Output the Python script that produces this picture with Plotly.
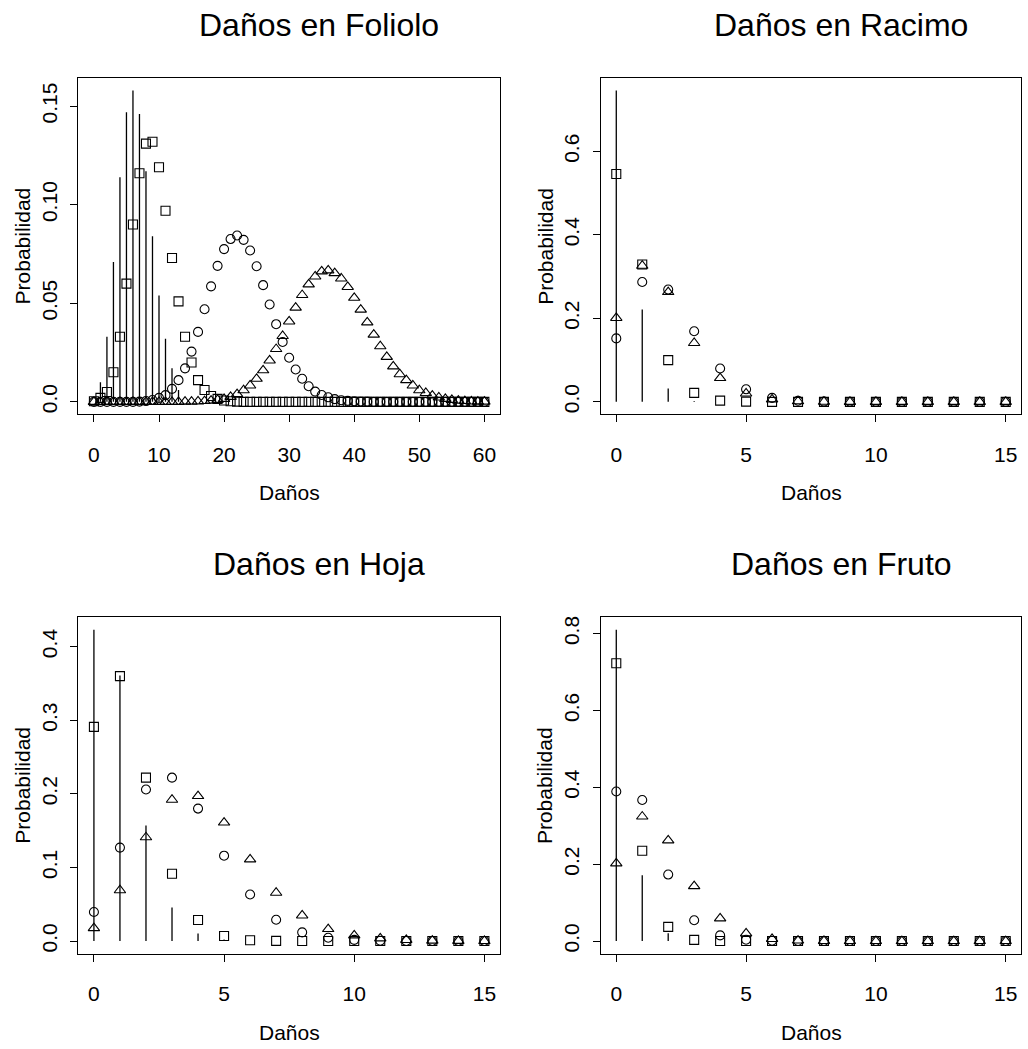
import plotly.graph_objects as go

# ---------------- data ----------------
titles = ["Daños en Foliolo", "Daños en Racimo", "Daños en Hoja", "Daños en Fruto"]
x_label = "Daños"
y_label = "Probabilidad"

# Foliolo: damage counts 0..60
fol_x = list(range(0, 61))
fol_obs_x = list(range(0, 14))
fol_obs = [0.0, 0.010, 0.033, 0.071, 0.114, 0.147, 0.158, 0.146, 0.117, 0.084,
           0.054, 0.032, 0.017, 0.006]
fol_negbin = [0.0003, 0.002, 0.005, 0.015, 0.033, 0.060, 0.090, 0.116, 0.131, 0.132,
              0.119, 0.097, 0.073, 0.051, 0.033, 0.020, 0.011, 0.006, 0.003, 0.0015,
              0.0007, 0.0003, 0.0001, 0.0, 0.0, 0.0, 0.0, 0.0, 0.0, 0.0,
              0.0, 0.0, 0.0, 0.0, 0.0, 0.0, 0.0, 0.0, 0.0, 0.0,
              0.0, 0.0, 0.0, 0.0, 0.0, 0.0, 0.0, 0.0, 0.0, 0.0,
              0.0, 0.0, 0.0, 0.0, 0.0, 0.0, 0.0, 0.0, 0.0, 0.0, 0.0]
fol_poisson = [0.0, 0.0, 0.0, 0.0, 0.0, 0.0, 0.0, 0.0001, 0.0004, 0.0009,
               0.002, 0.0034, 0.0066, 0.011, 0.017, 0.0255, 0.0355, 0.047, 0.0586, 0.069,
               0.0775, 0.0826, 0.0844, 0.0822, 0.0768, 0.0688, 0.0592, 0.0494, 0.0394, 0.0304,
               0.0224, 0.0164, 0.0117, 0.0079, 0.0052, 0.0035, 0.0023, 0.0014, 0.0008, 0.0005,
               0.0003, 0.0002, 0.0001, 0.0, 0.0, 0.0, 0.0, 0.0, 0.0, 0.0,
               0.0, 0.0, 0.0, 0.0, 0.0, 0.0, 0.0, 0.0, 0.0, 0.0, 0.0]
fol_binom = [0.0, 0.0, 0.0, 0.0, 0.0, 0.0, 0.0, 0.0, 0.0, 0.0,
             0.0, 0.0, 0.0, 0.0, 0.0001, 0.0001, 0.0002, 0.0004, 0.0006, 0.0010,
             0.0015, 0.0025, 0.0039, 0.0059, 0.0083, 0.0117, 0.016, 0.021, 0.0268, 0.0334,
             0.0408, 0.0478, 0.0542, 0.0596, 0.0636, 0.0662, 0.0667, 0.0653, 0.0626, 0.0583,
             0.0528, 0.0468, 0.0403, 0.0341, 0.0282, 0.0228, 0.018, 0.014, 0.011, 0.0083,
             0.0059, 0.0045, 0.0032, 0.0022, 0.0015, 0.001, 0.0006, 0.0004, 0.0002, 0.0001, 0.0001]

# Racimo: damage counts 0..15
rac_x = list(range(0, 16))
rac_obs_x = [0, 1, 2, 3]
rac_obs = [0.746, 0.221, 0.032, 0.002]
rac_negbin = [0.546, 0.329, 0.100, 0.0215, 0.003, 0.0005, 0.0, 0.0,
              0.0, 0.0, 0.0, 0.0, 0.0, 0.0, 0.0, 0.0]
rac_poisson = [0.152, 0.287, 0.269, 0.169, 0.080, 0.030, 0.0095, 0.0026,
               0.0006, 0.0001, 0.0, 0.0, 0.0, 0.0, 0.0, 0.0]
rac_binom = [0.201, 0.326, 0.263, 0.141, 0.057, 0.020, 0.006, 0.0015,
             0.0003, 0.0, 0.0, 0.0, 0.0, 0.0, 0.0, 0.0]

# Hoja: damage counts 0..15
hoj_x = list(range(0, 16))
hoj_obs_x = [0, 1, 2, 3, 4, 5]
hoj_obs = [0.423, 0.361, 0.157, 0.0457, 0.0104, 0.002]
hoj_negbin = [0.291, 0.360, 0.222, 0.0914, 0.0285, 0.0068, 0.001, 0.0002,
              0.0, 0.0, 0.0, 0.0, 0.0, 0.0, 0.0, 0.0]
hoj_poisson = [0.0394, 0.127, 0.206, 0.222, 0.180, 0.116, 0.0633, 0.029,
               0.0118, 0.0045, 0.0016, 0.0005, 0.0001, 0.0, 0.0, 0.0]
hoj_binom = [0.0176, 0.069, 0.141, 0.192, 0.197, 0.161, 0.111, 0.0656,
             0.0348, 0.0163, 0.0077, 0.0036, 0.0015, 0.0006, 0.0002, 0.0001]

# Fruto: damage counts 0..15
fru_x = list(range(0, 16))
fru_obs_x = [0, 1, 2]
fru_obs = [0.810, 0.171, 0.020]
fru_negbin = [0.723, 0.235, 0.037, 0.003, 0.0003, 0.0, 0.0, 0.0,
              0.0, 0.0, 0.0, 0.0, 0.0, 0.0, 0.0, 0.0]
fru_poisson = [0.389, 0.367, 0.173, 0.054, 0.0147, 0.0035, 0.0007, 0.0001,
               0.0, 0.0, 0.0, 0.0, 0.0, 0.0, 0.0, 0.0]
fru_binom = [0.202, 0.324, 0.262, 0.143, 0.059, 0.020, 0.0055, 0.0013,
             0.0003, 0.0, 0.0, 0.0, 0.0, 0.0, 0.0, 0.0]

x_ticks = [[0, 10, 20, 30, 40, 50, 60], [0, 5, 10, 15], [0, 5, 10, 15], [0, 5, 10, 15]]
y_ticks = [[0.0, 0.05, 0.10, 0.15], [0.0, 0.2, 0.4, 0.6],
           [0.0, 0.1, 0.2, 0.3, 0.4], [0.0, 0.2, 0.4, 0.6, 0.8]]
y_tick_text = [["0.0", "0.05", "0.10", "0.15"], ["0.0", "0.2", "0.4", "0.6"],
               ["0.0", "0.1", "0.2", "0.3", "0.4"], ["0.0", "0.2", "0.4", "0.6", "0.8"]]

panels = [
    (fol_x, fol_obs_x, fol_obs, fol_poisson, fol_binom, fol_negbin),
    (rac_x, rac_obs_x, rac_obs, rac_poisson, rac_binom, rac_negbin),
    (hoj_x, hoj_obs_x, hoj_obs, hoj_poisson, hoj_binom, hoj_negbin),
    (fru_x, fru_obs_x, fru_obs, fru_poisson, fru_binom, fru_negbin),
]

# ---------------- layout geometry (pixels) ----------------
W, H = 1028, 1049
FONT = "Liberation Sans, Arial, Helvetica, sans-serif"
col_px = [(78.3, 500.0), (600.7, 1021.3)]
row_px = [(78.0, 414.3), (617.3, 953.5)]
row_shift = row_px[1][0] - row_px[0][0]
title_cx = [319, 841]


def fx(p):
    return p / W


def fy(p):
    return 1 - p / H


fig = go.Figure()
layout = dict(
    width=W, height=H,
    margin=dict(l=0, r=0, t=0, b=0),
    paper_bgcolor="white", plot_bgcolor="white",
    showlegend=False,
    font=dict(family=FONT, color="black", size=21),
    annotations=[],
)

marker_line = dict(color="black", width=1.1)

for i, (xs, ox, ov, pois, binom, nb) in enumerate(panels):
    r, c = divmod(i, 2)
    n = i + 1
    xa = "x" if n == 1 else f"x{n}"
    ya = "y" if n == 1 else f"y{n}"

    # observed frequencies as vertical spikes
    seg_x, seg_y = [], []
    for k, v in zip(ox, ov):
        seg_x += [k, k, None]
        seg_y += [0, v, None]
    fig.add_trace(go.Scatter(x=seg_x, y=seg_y, mode="lines",
                             line=dict(color="black", width=1.3),
                             xaxis=xa, yaxis=ya, hoverinfo="skip"))
    # fitted distributions
    fig.add_trace(go.Scatter(x=xs, y=pois, mode="markers", xaxis=xa, yaxis=ya,
                             marker=dict(symbol="circle-open", size=9, color="black",
                                         line=marker_line)))
    fig.add_trace(go.Scatter(x=xs, y=binom, mode="markers", xaxis=xa, yaxis=ya,
                             marker=dict(symbol="triangle-up-open", size=10, color="black",
                                         line=marker_line)))
    fig.add_trace(go.Scatter(x=xs, y=nb, mode="markers", xaxis=xa, yaxis=ya,
                             marker=dict(symbol="square-open", size=9, color="black",
                                         line=marker_line)))

    xmin, xmax = min(xs), max(xs)
    xpad = 0.04 * (xmax - xmin)
    ymax = max(max(ov), max(pois), max(binom), max(nb))
    ypad = 0.04 * ymax

    x0, x1 = col_px[c]
    y0, y1 = row_px[r]
    axis_common = dict(showgrid=False, zeroline=False, showline=True, mirror=True,
                       linecolor="black", linewidth=1, ticks="outside", ticklen=7,
                       tickwidth=1, tickcolor="black",
                       tickfont=dict(family=FONT, size=21, color="black"))
    layout["xaxis" if n == 1 else f"xaxis{n}"] = dict(
        axis_common, domain=[fx(x0), fx(x1)], anchor=ya,
        range=[xmin - xpad, xmax + xpad], tickvals=x_ticks[i],
        ticklabelstandoff=14)
    layout["yaxis" if n == 1 else f"yaxis{n}"] = dict(
        axis_common, domain=[fy(y1), fy(y0)], anchor=xa,
        range=[-ypad, ymax + ypad], tickvals=y_ticks[i], ticktext=y_tick_text[i],
        tickangle=-90, ticklabelstandoff=5)

    cx = (x0 + x1) / 2
    cy = (y0 + y1) / 2
    layout["annotations"] += [
        dict(text=titles[i], x=fx(title_cx[c]), y=fy(25 + r * row_shift),
             xref="paper", yref="paper",
             showarrow=False, xanchor="center", yanchor="middle",
             font=dict(family=FONT, size=32, color="black")),
        dict(text=x_label, x=fx(cx), y=fy(493 + r * row_shift), xref="paper", yref="paper",
             showarrow=False, xanchor="center", yanchor="middle",
             font=dict(family=FONT, size=21, color="black")),
        dict(text=y_label, x=fx(x0 - 56), y=fy(cy), xref="paper", yref="paper",
             showarrow=False, xanchor="center", yanchor="middle", textangle=-90,
             font=dict(family=FONT, size=21, color="black")),
    ]

fig.update_layout(**layout)
fig.write_html("out.html")
